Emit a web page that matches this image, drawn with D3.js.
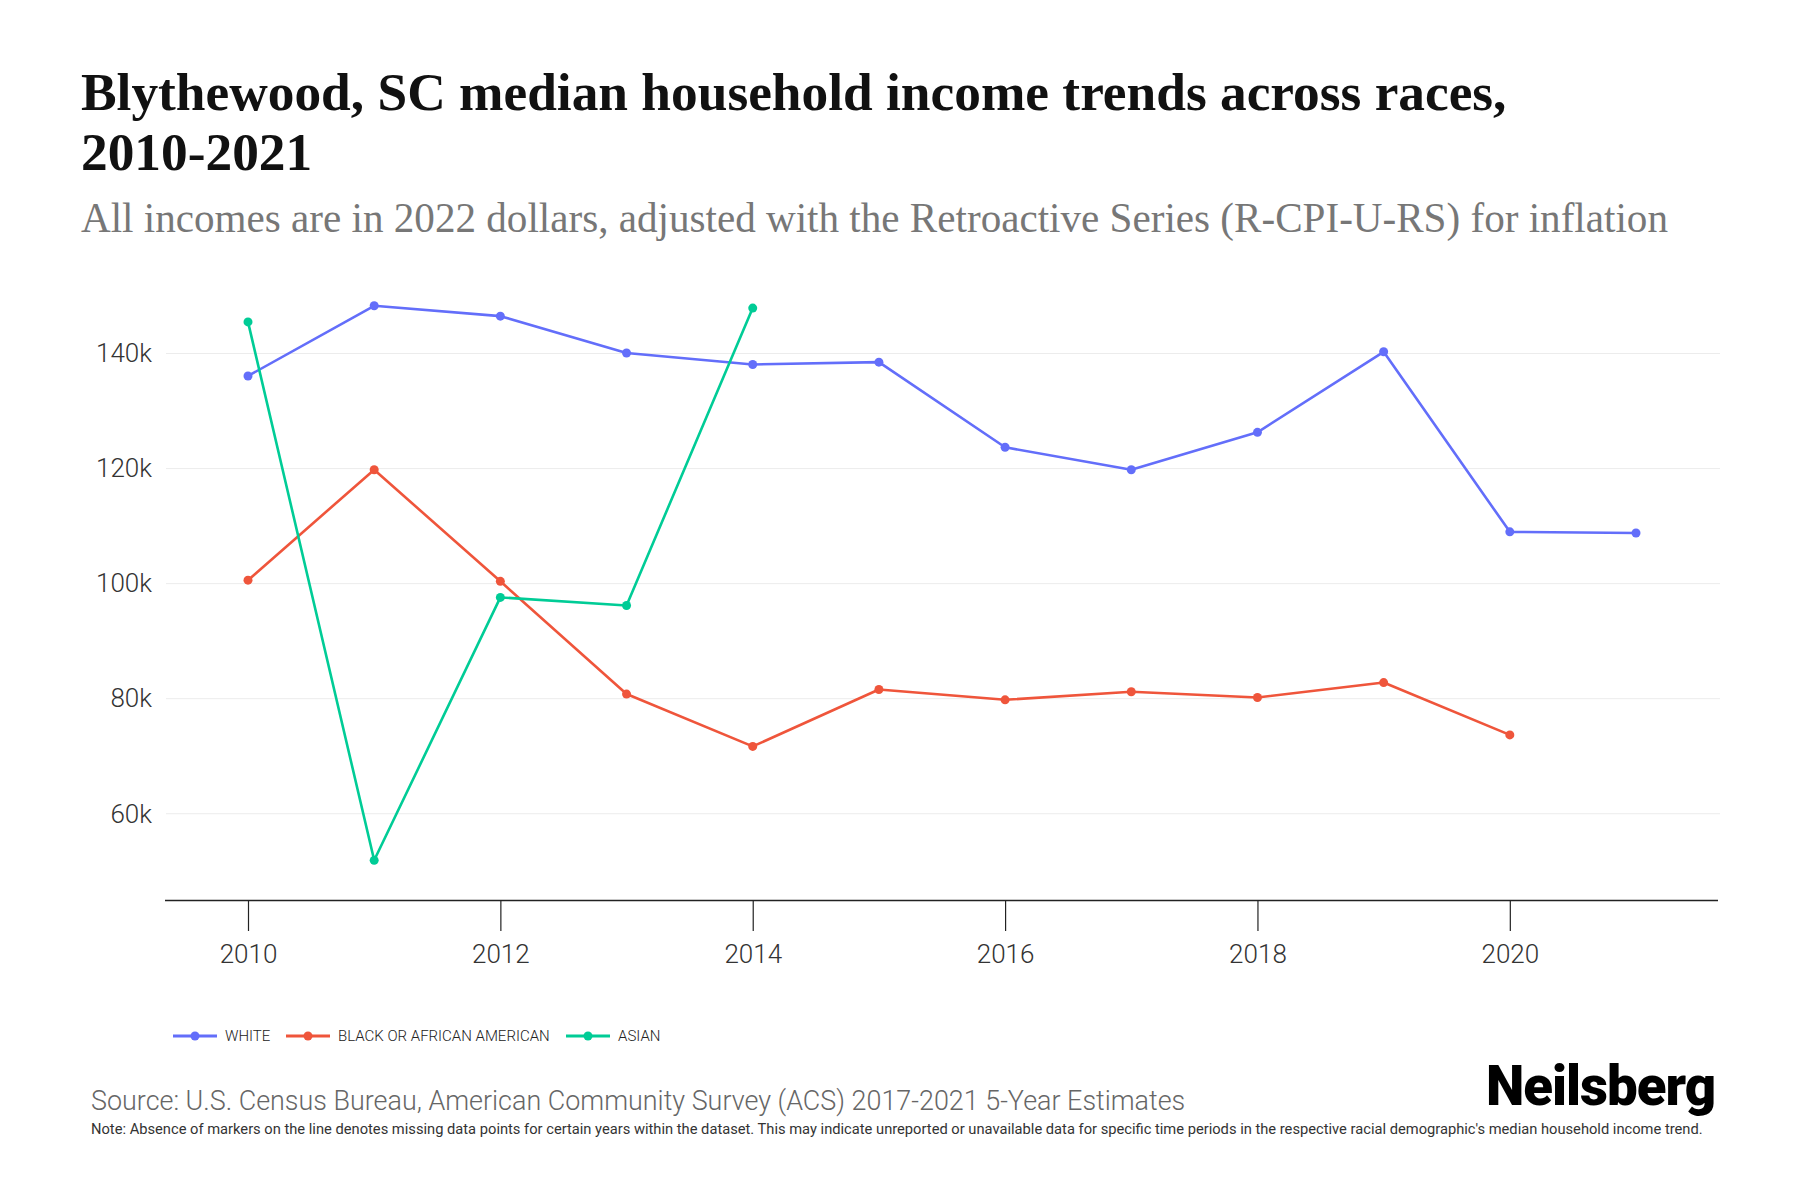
<!DOCTYPE html>
<html>
<head>
<meta charset="utf-8">
<script src="https://cdn.jsdelivr.net/npm/d3@7"></script>
<style>
  body { margin: 0; background: #fff; }
  svg { display: block; }
</style>
</head>
<body>
<svg id="chart" width="1800" height="1200"></svg>
<script>
// data
var years = [2010, 2011, 2012, 2013, 2014, 2015, 2016, 2017, 2018, 2019, 2020, 2021];
var white = [136100, 148300, 146500, 140100, 138100, 138500, 123700, 119800, 126300, 140300, 109000, 108800];
var black = [100600, 119800, 100400, 80800, 71700, 81600, 79800, 81200, 80200, 82800, 73700, null];
var asian = [145500, 51900, 97600, 96200, 147900, null, null, null, null, null, null, null];
var seriesNames = ["WHITE", "BLACK OR AFRICAN AMERICAN", "ASIAN"];
var seriesColors = ["#636efa", "#ef553b", "#00cc96"];
var yTicks = [60000, 80000, 100000, 120000, 140000];
var xTicks = [2010, 2012, 2014, 2016, 2018, 2020];

var svg = d3.select("#chart");

// fits a text to a width by changing its font size
function fitWidth(sel, w) {
  var fs = parseFloat(sel.attr("font-size"));
  var len = sel.node().getComputedTextLength();
  sel.attr("font-size", fs * w / len);
}

// title and subtitle
var t1 = svg.append("text").attr("x", 81).attr("y", 110)
  .attr("font-family", "Liberation Serif, serif").attr("font-weight", "bold")
  .attr("font-size", 48).attr("fill", "#111")
  .text("Blythewood, SC median household income trends across races,");
fitWidth(t1, 1426);
svg.append("text").attr("x", 81).attr("y", 170)
  .attr("font-family", "Liberation Serif, serif").attr("font-weight", "bold")
  .attr("font-size", t1.attr("font-size")).attr("fill", "#111")
  .text("2010-2021");
var st = svg.append("text").attr("x", 81).attr("y", 232)
  .attr("font-family", "Liberation Serif, serif")
  .attr("font-size", 34).attr("fill", "#777")
  .text("All incomes are in 2022 dollars, adjusted with the Retroactive Series (R-CPI-U-RS) for inflation");
fitWidth(st, 1587);

// scales
var x = d3.scaleLinear().domain([2010, 2021]).range([248, 1636]);
var y = d3.scaleLinear().domain([45000, 150000]).range([900, 296]);

// gridlines
svg.append("g").selectAll("line").data(yTicks).enter().append("line")
  .attr("x1", 166).attr("x2", 1720)
  .attr("y1", function(d) { return y(d); })
  .attr("y2", function(d) { return y(d); })
  .attr("stroke", "#ececec").attr("stroke-width", 1);

// y axis labels
var yAxis = svg.append("g").attr("transform", "translate(166,0)")
  .call(d3.axisLeft(y).tickValues(yTicks).tickSize(0).tickPadding(14)
    .tickFormat(function(d) { return (d / 1000) + "k"; }));
yAxis.select(".domain").remove();
yAxis.selectAll("text").attr("font-family", "Roboto, sans-serif").attr("font-weight", 300)
  .attr("font-size", 26).attr("fill", "#333");

// x axis
var xAxis = svg.append("g").attr("transform", "translate(0,900)")
  .call(d3.axisBottom(x).tickValues(xTicks).tickSize(31).tickPadding(14).tickFormat(d3.format("d")));
xAxis.select(".domain").attr("d", "M165,0.5H1718").attr("stroke", "#222").attr("stroke-width", 1.6);
xAxis.selectAll(".tick line").attr("stroke", "#222").attr("stroke-width", 1.2);
xAxis.selectAll("text").attr("font-family", "Roboto, sans-serif").attr("font-weight", 300)
  .attr("font-size", 26).attr("fill", "#333");

// lines and markers
var allSeries = [white, black, asian];
var line = d3.line()
  .defined(function(d) { return d != null; })
  .x(function(d, i) { return x(years[i]); })
  .y(function(d) { return y(d); });

allSeries.forEach(function(s, k) {
  svg.append("path").datum(s)
    .attr("d", line)
    .attr("fill", "none")
    .attr("stroke", seriesColors[k])
    .attr("stroke-width", 2.6)
    .attr("stroke-linejoin", "round");
  svg.append("g").selectAll("circle")
    .data(s.map(function(v, i) { return { year: years[i], v: v }; })
      .filter(function(d) { return d.v != null; }))
    .enter().append("circle")
    .attr("cx", function(d) { return x(d.year); })
    .attr("cy", function(d) { return y(d.v); })
    .attr("r", 4.5)
    .attr("fill", seriesColors[k]);
});

// legend
var legendX = [173, 286, 566];
var leg = svg.append("g").selectAll("g").data(seriesNames).enter().append("g")
  .attr("transform", function(d, i) { return "translate(" + legendX[i] + ",1036)"; });
leg.append("line").attr("x1", 0).attr("x2", 44).attr("y1", 0).attr("y2", 0)
  .attr("stroke", function(d, i) { return seriesColors[i]; }).attr("stroke-width", 3);
leg.append("circle").attr("cx", 22).attr("cy", 0).attr("r", 4.5)
  .attr("fill", function(d, i) { return seriesColors[i]; });
leg.append("text").attr("x", 52).attr("y", 0).attr("dy", "0.36em")
  .attr("font-family", "Roboto, sans-serif").attr("font-weight", 300)
  .attr("font-size", 15).attr("fill", "#222")
  .text(function(d) { return d; });

// footer
var src = svg.append("text").attr("x", 91).attr("y", 1110)
  .attr("font-family", "Roboto, sans-serif").attr("font-weight", 300)
  .attr("font-size", 28).attr("fill", "#666")
  .text("Source: U.S. Census Bureau, American Community Survey (ACS) 2017-2021 5-Year Estimates");
fitWidth(src, 1095);
var note = svg.append("text").attr("x", 91).attr("y", 1134)
  .attr("font-family", "Roboto, sans-serif").attr("font-weight", 400)
  .attr("font-size", 14).attr("fill", "#333")
  .text("Note: Absence of markers on the line denotes missing data points for certain years within the dataset. This may indicate unreported or unavailable data for specific time periods in the respective racial demographic's median household income trend.");
fitWidth(note, 1614);
var logo = svg.append("text").attr("x", 1486).attr("y", 1105)
  .attr("font-family", "Roboto, sans-serif").attr("font-weight", 900)
  .attr("font-size", 48).attr("fill", "#000").attr("letter-spacing", -1)
  .text("Neilsberg");
fitWidth(logo, 228);
</script>
</body>
</html>
